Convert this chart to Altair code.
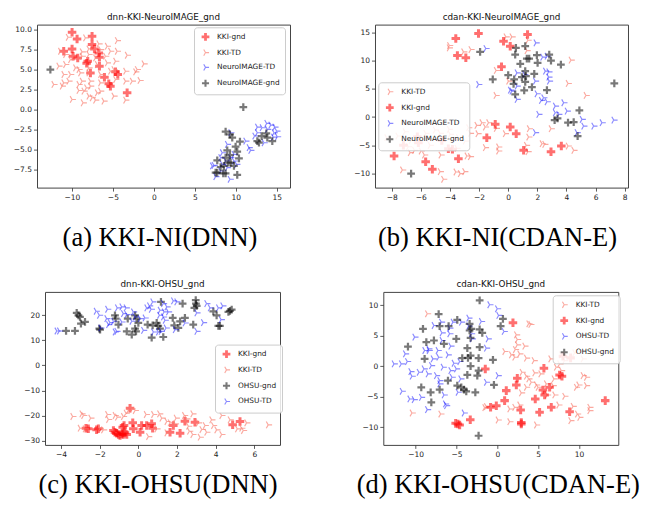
import altair as alt
import pandas as pd

# ---------------- data ----------------
A_KKI_GND = [(-9.98,9.67),(-9.37,8.83),(-7.54,9.17),(-7.54,8.13),(-7.25,7.58),(-11.0,7.29),(-9.98,7.58),
             (-9.86,6.67),(-9.29,6.46),(-6.72,7.08),(-6.64,6.54),(-8.07,6.04),(-8.2,5.8),(-7.74,4.58),
             (-6.64,5.42),(-6.03,4.04),(-4.68,4.71),(-4.40,4.38),(-5.5,3.21),(-5.3,2.92),(-3.26,2.08)]
A_KKI_TD = [(-10.47,9.04),(-8.35,8.96),(-6.72,8.21),(-5.70,7.92),(-4.48,8.63),(-7.94,7.58),(-6.52,7.5),
            (-5.30,7.29),(-4.48,7.29),(-11.41,7.29),(-10.79,6.88),(-8.76,7.21),(-10.18,6.25),(-8.76,6.67),
            (-7.94,6.88),(-7.13,6.46),(-5.91,6.67),(-4.68,6.04),(-3.26,6.79),(-11.61,5.42),(-10.79,5.63),
            (-9.57,5.21),(-9.16,5.0),(-7.94,5.21),(-6.92,5.63),(-5.70,5.83),(-4.89,5.0),(-3.46,4.79),
            (-1.22,5.71),(-2.24,4.71),(-11.0,4.38),(-10.18,4.38),(-8.96,4.58),(-7.94,4.58),(-6.52,4.38),
            (-5.30,4.79),(-12.22,3.13),(-11.0,3.33),(-10.39,3.54),(-8.76,3.54),(-7.74,3.54),(-6.52,3.33),
            (-4.68,3.75),(-3.46,3.54),(-2.65,3.54),(-1.71,3.63),(-2.04,5.0),(-9.16,2.38),(-8.55,2.29),
            (-7.74,2.92),(-6.92,2.08),(-6.52,2.29),(-7.94,1.67),(-7.54,1.46),(-4.89,1.67),(-9.98,1.25),
            (-8.64,0.83),(-7.13,1.17),(-6.11,1.04),(-3.46,1.17),(-11.2,2.92),(-9.16,3.13),(-8.23,2.71)]
A_NI_TD = [(9.37,-2.92),(8.96,-4.38),(11.2,-3.96),(11.61,-4.79),(11.81,-5.13),(8.35,-5.42),(9.78,-5.63),
           (9.37,-6.04),(7.13,-7.08),(7.33,-7.0),(8.15,-6.04),(8.35,-6.88),(8.76,-6.46),(9.78,-6.46),
           (10.1,-6.88),(7.54,-8.42),(9.29,-8.75),(8.15,-7.71),(8.96,-7.29),(12.63,-2.21),(13.77,-1.75),
           (14.26,-1.96),(14.75,-2.21),(14.99,-2.71),(15.07,-3.42),(14.58,-3.46),(13.44,-4.17),
           (12.63,-2.92),(13.85,-2.5),(12.3,-3.33),(13.2,-2.29),(14.67,-2.92)]
A_NI_GND = [(-12.63,5.0),(10.92,0.29),(8.76,-2.79),(9.29,-3.13),(9.57,-3.54),(10.51,-4.04),(9.98,-4.67),
            (8.96,-5.13),(10.18,-5.29),(9.29,-5.71),(8.76,-6.04),(7.74,-6.38),(10.39,-6.13),(9.37,-6.67),
            (9.78,-7.08),(8.55,-7.08),(8.15,-7.21),(7.74,-7.92),(8.47,-8.0),(7.54,-7.92),(8.76,-8.0),
            (10.18,-8.21),(12.63,-3.96),(13.16,-3.33),(13.73,-3.0),(14.46,-3.96),(12.83,-4.17),
            (13.85,-3.54),(9.08,-6.67)]

B_KKI_TD = [(-4.04,12.65),(-4.06,12.24),(-3.07,11.53),(-2.57,11.94),(-0.16,14.18),(0.25,14.18),(1.35,13.59),
            (-0.83,8.24),(1.28,11.76),(4.31,10.06),(4.11,5.94),(5.34,3.82),(0.02,6.35),(-0.85,3.82),
            (-8.35,-3.65),(-7.59,-3.35),(-7.09,-2.59),(-5.67,-2.88),(-5.44,-3.82),(-6.86,-5.24),
            (-6.74,-6.29),(-5.99,-6.0),(-5.76,-6.71),(-5.37,-5.0),(-4.68,-2.88),(-3.99,-3.06),(-3.42,-3.65),
            (-2.96,-4.24),(-2.61,-2.88),(-2.73,-1.88),(-2.16,-1.47),(-1.81,-1.0),(-1.58,-1.76),(-1.35,-1.0),
            (-2.09,-2.94),(-1.58,-5.41),(-0.67,-5.29),(-0.67,-6.0),(-0.21,-2.94),(1.44,-2.06),(1.40,-3.53),
            (1.24,-5.0),(1.35,-6.12),(2.32,-4.71),(2.50,-4.82),(2.94,-2.06),(4.11,-5.12),(4.50,-5.88),
            (-4.63,-6.71),(-2.84,-6.88),(-2.61,-7.0),(-4.68,-9.65),(-3.60,-9.71),(-3.30,-10.0),(-3.0,-9.65),
            (-4.45,-11.0),(-7.27,-9.35),(-3.53,-5.53),(-5.02,-2.29),(-6.44,-5.88),(-6.67,-4.12),
            (-4.06,-2.18),(-0.83,-2.0)]
B_KKI_GND = [(-3.60,13.88),(-3.49,10.88),(-2.91,10.47),(-2.04,14.76),(-0.46,8.88),(-0.32,13.41),(0.14,12.53),
             (1.33,14.59),(-0.89,-1.29),(0.14,-1.76),(0.55,-2.94),(-1.47,-3.65),(-6.24,-3.47),(-7.20,-5.0),
             (-6.17,-4.53),(-4.56,-4.12),(-4.11,-5.59),(-3.83,-5.71),(-3.42,-7.35),(-5.67,-7.88),
             (-5.21,-9.24),(-7.84,-6.88),(1.06,-5.88),(2.94,-6.12),(3.65,-5.12)]
B_NI_TD = [(-1.54,12.12),(-2.04,5.76),(1.90,13.12),(2.36,10.59),(2.66,10.76),(0.60,7.82),(1.12,7.53),
           (2.55,8.12),(2.78,8.0),(2.78,7.06),(2.82,6.35),(1.86,6.35),(0.14,4.76),(0.60,3.12),(1.97,4.12),
           (2.27,2.94),(2.66,2.71),(2.43,3.41),(3.23,1.94),(3.81,2.53),(3.23,0.76),(2.09,0.47),(3.46,0.47),
           (4.04,1.06),(5.07,-0.41),(5.18,-1.59),(5.87,-1.59),(6.44,-1.0),(7.25,-0.53),(4.72,-2.76),
           (1.86,-2.76),(0.60,5.47),(0.25,4.59)]
B_NI_GND = [(-1.93,11.53),(-1.06,6.65),(0.53,12.24),(1.17,12.53),(0.48,11.06),(0.83,9.41),(1.28,10.35),
            (1.44,10.35),(1.97,10.94),(2.02,9.59),(2.82,11.06),(2.94,10.0),(3.62,9.29),(0.0,7.41),(0.41,6.65),
            (1.17,8.12),(1.22,7.24),(0.94,7.06),(1.17,6.24),(0.37,5.88),(0.48,4.0),(1.10,4.71),(1.79,7.65),
            (1.63,5.29),(2.66,4.76),(7.29,5.94),(4.89,1.18),(3.19,-0.53),(3.39,-0.24),(4.11,-1.0),
            (4.50,-0.88),(4.77,-3.35),(-6.67,-10.0)]

C_KKI_GND = [(-2.71,-25.07),(-2.59,-25.33),(-2.16,-25.73),(-2.07,-25.33),(-1.29,-26.0),(-1.21,-26.67),
             (-1.12,-27.07),(-1.03,-27.6),(-0.95,-28.0),(-0.86,-27.33),(-0.78,-27.6),(-0.69,-26.93),
             (-0.60,-27.6),(-0.81,-24.67),(-0.74,-24.0),(-0.43,-17.07),(-0.29,-22.93),(-0.26,-25.33),
             (0.09,-26.67),(0.17,-24.0),(0.43,-24.0),(0.69,-23.33),(0.74,-25.07),(1.64,-26.67),(1.81,-24.0),
             (2.16,-27.07),(2.41,-22.27),(2.93,-22.67),(4.88,-23.73),(5.26,-22.4)]
C_KKI_TD = [(-3.40,-20.4),(-2.93,-19.33),(-2.84,-20.0),(-2.47,-21.07),(-3.02,-25.07),(-2.76,-25.33),
            (-1.60,-19.6),(-1.55,-21.6),(-1.21,-20.0),(-1.09,-20.67),(-0.78,-20.4),(-0.64,-19.07),
            (-0.52,-18.0),(-0.34,-17.33),(-0.17,-18.0),(0.40,-19.6),(0.52,-28.4),(0.78,-19.6),(1.09,-19.33),
            (1.21,-21.07),(1.47,-22.4),(1.64,-22.93),(1.95,-21.07),(1.90,-23.33),(2.38,-20.0),(2.50,-21.33),
            (2.59,-24.27),(2.64,-26.27),(2.81,-19.33),(2.81,-27.6),(3.19,-28.67),(3.28,-25.6),(3.45,-24.0),
            (3.79,-21.73),(3.88,-24.0),(4.05,-25.73),(4.31,-20.0),(4.31,-27.6),(4.74,-21.73),(5.12,-25.33),
            (5.34,-25.07),(5.60,-22.93),(5.43,-26.0),(6.72,-23.73),(-1.98,-25.07),(-1.81,-25.73),
            (0.95,-25.33),(3.53,-26.67),(3.10,-22.93),(1.47,-26.93)]
C_OHSU_GND = [(-3.74,13.73),(-3.28,13.73),(-3.19,20.93),(-3.10,20.0),(-3.02,19.33),(-2.97,16.67),(-2.76,17.33),
              (-2.02,14.67),(-1.98,14.27),(-1.21,20.0),(-1.17,18.67),(-1.03,16.27),(-0.55,18.67),(-0.60,13.6),
              (-0.34,12.27),(-0.17,14.67),(-0.12,13.6),(-0.17,20.0),(-0.09,18.67),(0.0,16.93),(0.48,16.27),
              (0.74,16.0),(0.95,16.93),(1.03,15.73),(1.12,14.67),(0.69,11.07),(1.17,25.33),(1.29,11.33),
              (1.78,18.93),(1.86,16.0),(2.07,14.93),(2.16,17.6),(2.29,24.67),(2.41,18.93),(2.84,16.27),
              (2.90,22.93),(2.97,26.0),(2.98,24.67),(3.02,23.73),(3.88,21.6),(4.05,20.0),(4.14,15.73),
              (4.22,15.73),(4.66,21.33),(4.74,21.73),(4.83,22.27)]
C_OHSU_TD = [(-4.22,13.73),(-4.09,13.73),(-2.19,21.6),(-2.02,20.0),(-1.60,22.4),(-1.55,16.27),(-1.47,17.07),
             (-1.29,17.6),(-1.21,13.33),(-1.12,13.6),(-1.09,22.93),(-0.86,23.33),(-0.78,20.67),(-0.60,20.27),
             (-0.64,22.93),(-0.26,21.33),(-0.17,19.33),(-0.34,17.6),(-0.86,17.33),(0.09,18.67),(0.34,18.93),
             (0.43,22.93),(0.57,23.73),(0.66,22.4),(0.74,25.33),(1.09,20.0),(1.12,22.0),(1.29,24.67),
             (1.33,21.33),(1.47,23.33),(1.38,18.0),(1.43,14.93),(1.17,13.6),(0.78,13.33),(1.81,25.73),
             (1.98,25.33),(1.55,21.33),(1.29,19.33),(1.90,14.27),(2.41,16.93),(3.02,20.93),(3.02,13.6),
             (3.36,17.07),(3.53,24.67),(3.71,22.93),(4.14,22.93),(4.28,18.27),(4.36,23.73),(-1.95,14.93),
             (-1.64,18.67),(0.26,14.0),(1.03,13.33)]

D_KKI_TD = [(-8.57,8.60),(-6.94,-7.84),(-10.45,-7.67),(2.33,5.15),(2.45,4.38),(2.45,3.51),(3.35,3.29),
            (2.20,2.74),(2.73,2.03),(1.71,1.86),(2.12,1.48),(0.90,2.41),(3.84,6.96),(4.08,6.85),(4.49,0.93),
            (3.55,1.32),(3.02,-0.99),(3.55,-1.64),(4.57,-1.10),(5.31,-1.26),(4.16,-2.63),(4.78,-3.07),
            (3.55,-3.45),(2.94,-4.38),(6.53,1.21),(7.22,-0.16),(7.63,0.38),(7.84,-0.71),(8.24,0.93),
            (6.82,-3.18),(7.02,-4.71),(6.94,-2.08),(6.0,-2.90),(7.84,1.86),(9.47,2.19),(10.49,1.21),
            (10.49,-1.53),(10.90,-1.81),(9.96,-3.07),(9.67,-3.45),(10.90,-3.18),(8.24,-4.93),(7.51,-6.36),
            (9.27,-6.58),(9.80,-7.84),(10.08,-8.38),(11.31,-6.74),(11.31,-7.29),(8.98,-8.93),(4.78,-9.64),
            (0.08,-8.82),(1.51,-9.10),(1.51,-7.01),(2.12,-6.74),(2.73,-6.36),(-1.35,-6.63),(-1.55,-6.79),
            (6.12,-4.71),(4.98,-3.45),(3.84,-2.08)]
D_KKI_GND = [(-1.47,-0.44),(1.92,7.12),(2.45,-1.97),(2.33,-3.07),(1.10,-4.0),(0.90,-5.64),(-0.12,-6.47),
             (-0.82,-6.74),(-5.10,-9.37),(-4.82,-9.48),(-4.61,-9.64),(-3.31,-8.77),(2.86,-7.18),(2.94,-9.21),
             (2.94,-9.48),(4.65,-5.37),(5.18,-7.56),(5.59,-3.89),(5.80,-4.71),(5.71,-0.33),(6.41,-3.45),
             (6.61,-6.74),(7.63,-1.42),(7.92,-1.64),(8.04,1.64),(8.98,1.37),(8.86,-7.45),(13.22,-5.64)]
D_OHSU_TD = [(-12.65,0.38),(-11.76,0.38),(-11.67,-4.11),(-11.27,2.03),(-11.02,0.77),(-10.61,-0.88),
             (-10.73,-5.37),(-10.20,-5.48),(-10.12,4.77),(-10.45,-1.64),(-9.59,-0.99),(-9.31,-5.10),
             (-8.98,-0.44),(-8.90,2.58),(-8.41,2.85),(-8.57,-7.12),(-8.49,-1.26),(-8.08,0.11),(-7.88,1.21),
             (-7.76,6.68),(-7.47,-1.53),(-7.27,2.58),(-7.18,1.48),(-7.06,-2.36),(-6.86,7.23),(-6.78,5.48),
             (-6.78,4.22),(-6.65,-0.16),(-6.53,-4.71),(-6.37,-6.19),(-6.04,1.86),(-5.84,5.32),(-5.71,3.29),
             (-5.71,-0.71),(-5.84,6.25),(-5.55,-1.81),(-5.43,7.23),(-5.31,0.49),(-5.02,-0.44),(-4.82,-4.27),
             (-4.61,0.77),(-4.49,-2.08),(-4.08,-7.67),(-3.51,7.89),(-3.51,6.58),(-3.18,5.32),(-3.10,4.49),
             (-1.96,7.34),(-1.35,2.96),(-1.35,-2.63),(-1.14,4.49),(-0.94,10.08),(0.0,9.42),(0.16,8.33),
             (0.08,-1.53),(0.82,5.70),(-6.24,-6.47),(-7.06,-2.90),(-8.37,2.58),(-4.41,7.23)]
D_OHSU_GND = [(-2.16,10.79),(-7.18,8.55),(-4.90,7.62),(0.69,7.78),(0.41,6.58),(-9.10,6.14),(-7.06,6.58),
              (-5.96,6.58),(-5.02,4.49),(-3.39,6.96),(-3.18,6.14),(-3.39,5.86),(-3.27,4.66),(-2.16,6.03),
              (-1.84,5.48),(-10.94,3.23),(-8.69,3.95),(-7.76,4.22),(-6.53,3.67),(-2.16,3.12),(-8.90,1.21),
              (-3.67,2.96),(-3.27,1.75),(-3.59,1.37),(-4.29,1.32),(-2.29,1.32),(-0.53,1.04),(-3.27,0.0),
              (-2.29,-0.71),(-2.45,-1.53),(-3.67,-1.42),(-6.04,-2.36),(-4.90,-3.18),(-4.41,-3.45),
              (-4.08,-3.84),(-3.80,-4.11),(-9.31,-3.45),(-7.06,-3.84),(-8.16,-4.27),(-8.08,-5.92),
              (-2.69,-4.27),(-0.41,-3.07),(-2.29,-11.4)]

TITLES = ["dnn-KKI-NeuroIMAGE_gnd", "cdan-KKI-NeuroIMAGE_gnd", "dnn-KKI-OHSU_gnd", "cdan-KKI-OHSU_gnd"]
CAPTIONS = ["(a) KKI-NI(DNN)", "(b) KKI-NI(CDAN-E)", "(c) KKI-OHSU(DNN)", "(d) KKI-OHSU(CDAN-E)"]
A_XTICKS = [-10, -5, 0, 5, 10, 15]
A_YTICKS = [-7.5, -5.0, -2.5, 0.0, 2.5, 5.0, 7.5, 10.0]
B_XTICKS = [-8, -6, -4, -2, 0, 2, 4, 6, 8]
B_YTICKS = [-10, -5, 0, 5, 10, 15]
C_XTICKS = [-4, -2, 0, 2, 4, 6]
C_YTICKS = [-30, -20, -10, 0, 10, 20]
D_XTICKS = [-10, -5, 0, 5, 10]
D_YTICKS = [-10, -5, 0, 5, 10]

RED = "rgba(255,0,0,0.8)"
SALMON = "rgba(250,128,114,0.95)"
BLUE = "rgba(0,0,255,0.65)"
BLACK = "rgba(0,0,0,0.75)"
PLUS_THICK = ("M-1.1,0L1.1,0M0,-1.1L0,1.1M-1.1,-0.24L1.1,-0.24M-1.1,0.24L1.1,0.24"
              "M-0.24,-1.1L-0.24,1.1M0.24,-1.1L0.24,1.1")
PLUS_MED = ("M-1,0L1,0M0,-1L0,1M-1,-0.14L1,-0.14M-1,0.14L1,0.14"
            "M-0.14,-1L-0.14,1M0.14,-1L0.14,1")
TRI = "M0,0L1,0M0,0L-0.5,-0.866M0,0L-0.5,0.866"

STYLE = {
    "KKI-gnd": (RED, PLUS_THICK),
    "KKI-TD": (SALMON, TRI),
    "NeuroIMAGE-TD": (BLUE, TRI),
    "NeuroIMAGE-gnd": (BLACK, PLUS_MED),
    "OHSU-TD": (BLUE, TRI),
    "OHSU-gnd": (BLACK, PLUS_MED),
}


def panel(series, order, xdom, ydom, xticks, yticks, yfmt, w, h, title, caption, cap_pad, cap_x, lx, ly):
    rows = []
    for name in order:
        for x, y in series[name]:
            rows.append({"x": x, "y": y, "g": name})
    df = pd.DataFrame(rows)
    leg = alt.Legend(title=None, orient="none", legendX=lx, legendY=ly, fillColor="rgba(255,255,255,0.85)",
                     strokeColor="#cccccc", cornerRadius=3, padding=5, labelFont="DejaVu Sans",
                     labelFontSize=7.4, labelColor="#222222", symbolSize=50, symbolOffset=2,
                     labelOffset=7, rowPadding=3.8, symbolStrokeWidth=1.1)
    return alt.Chart(df).mark_point(filled=False, strokeWidth=1.15, size=60).encode(
        x=alt.X("x:Q", scale=alt.Scale(domain=xdom, nice=False, zero=False),
                axis=alt.Axis(values=xticks, format="d", title=caption, titlePadding=cap_pad,
                              titleBaseline="alphabetic", titleX=cap_x, titleAlign="center",
                              minExtent=14, maxExtent=14)),
        y=alt.Y("y:Q", scale=alt.Scale(domain=ydom, nice=False, zero=False),
                axis=alt.Axis(values=yticks, format=yfmt, title=None)),
        color=alt.Color("g:N", scale=alt.Scale(domain=order, range=[STYLE[o][0] for o in order]), legend=leg),
        shape=alt.Shape("g:N", scale=alt.Scale(domain=order, range=[STYLE[o][1] for o in order]), legend=leg),
    ).properties(width=w, height=h, title=title)


a = panel({"KKI-gnd": A_KKI_GND, "KKI-TD": A_KKI_TD, "NeuroIMAGE-TD": A_NI_TD, "NeuroIMAGE-gnd": A_NI_GND},
          ["KKI-gnd", "KKI-TD", "NeuroIMAGE-TD", "NeuroIMAGE-gnd"],
          [-14.26, 16.62], [-9.79, 10.63], A_XTICKS, A_YTICKS, ".1f", 253, 163,
          TITLES[0], CAPTIONS[0], 44, 122.5, 157, 2.7)
b = panel({"KKI-TD": B_KKI_TD, "KKI-gnd": B_KKI_GND, "NeuroIMAGE-TD": B_NI_TD, "NeuroIMAGE-gnd": B_NI_GND},
          ["KKI-TD", "KKI-gnd", "NeuroIMAGE-TD", "NeuroIMAGE-gnd"],
          [-9.15, 8.23], [-12.47, 16.35], B_XTICKS, B_YTICKS, "d", 253, 163,
          TITLES[1], CAPTIONS[1], 44, 122, 3.3, 57.7)
c = panel({"KKI-gnd": C_KKI_GND, "KKI-TD": C_KKI_TD, "OHSU-gnd": C_OHSU_GND, "OHSU-TD": C_OHSU_TD},
          ["KKI-gnd", "KKI-TD", "OHSU-gnd", "OHSU-TD"],
          [-4.83, 7.33], [-31.73, 29.33], C_XTICKS, C_YTICKS, "d", 235, 153,
          TITLES[2], CAPTIONS[2], 33.5, 112.5, 170, 52.7)
d = panel({"KKI-TD": D_KKI_TD, "KKI-gnd": D_KKI_GND, "OHSU-TD": D_OHSU_TD, "OHSU-gnd": D_OHSU_GND},
          ["KKI-TD", "KKI-gnd", "OHSU-TD", "OHSU-gnd"],
          [-13.96, 14.82], [-12.9, 12.19], D_XTICKS, D_YTICKS, "d", 235, 153,
          TITLES[3], CAPTIONS[3], 33.5, 114.5, 169.4, 3.4)


def spacer(w):
    return alt.Chart(pd.DataFrame({"v": [0]})).mark_point(opacity=0).properties(
        width=w, height=50, view=alt.ViewBackground(stroke="transparent"))


RES = dict(color="independent", shape="independent")

inner1 = alt.hconcat(a, b, spacing=85, bounds="flush").resolve_scale(**RES).resolve_legend(**RES)
row1 = alt.hconcat(spacer(1), inner1, spacing=0).resolve_scale(**RES).resolve_legend(**RES)
inner2 = alt.hconcat(c, d, spacing=103.3, bounds="flush").resolve_scale(**RES).resolve_legend(**RES)
row2 = alt.hconcat(spacer(13.7), inner2, spacing=0).resolve_scale(**RES).resolve_legend(**RES)

chart = alt.vconcat(row1, row2, spacing=27.3).resolve_scale(**RES).resolve_legend(**RES).properties(
    padding={"left": -3, "top": 3.6, "right": 2, "bottom": 2}
).configure_view(stroke="#444444", strokeWidth=1).configure_axis(
    domain=False, grid=False, tickSize=3.5, tickColor="#333333", tickWidth=0.8,
    labelFont="DejaVu Sans", labelFontSize=7.5, labelColor="#222222", labelPadding=2,
    titleFont="Liberation Serif", titleFontSize=26.5, titleFontWeight="normal", titleColor="#000000"
).configure_title(font="DejaVu Sans", fontSize=8.8, fontWeight="normal", color="#111111", offset=3.2)

chart.save("out.html", embed_options={"renderer": "svg", "actions": False})
